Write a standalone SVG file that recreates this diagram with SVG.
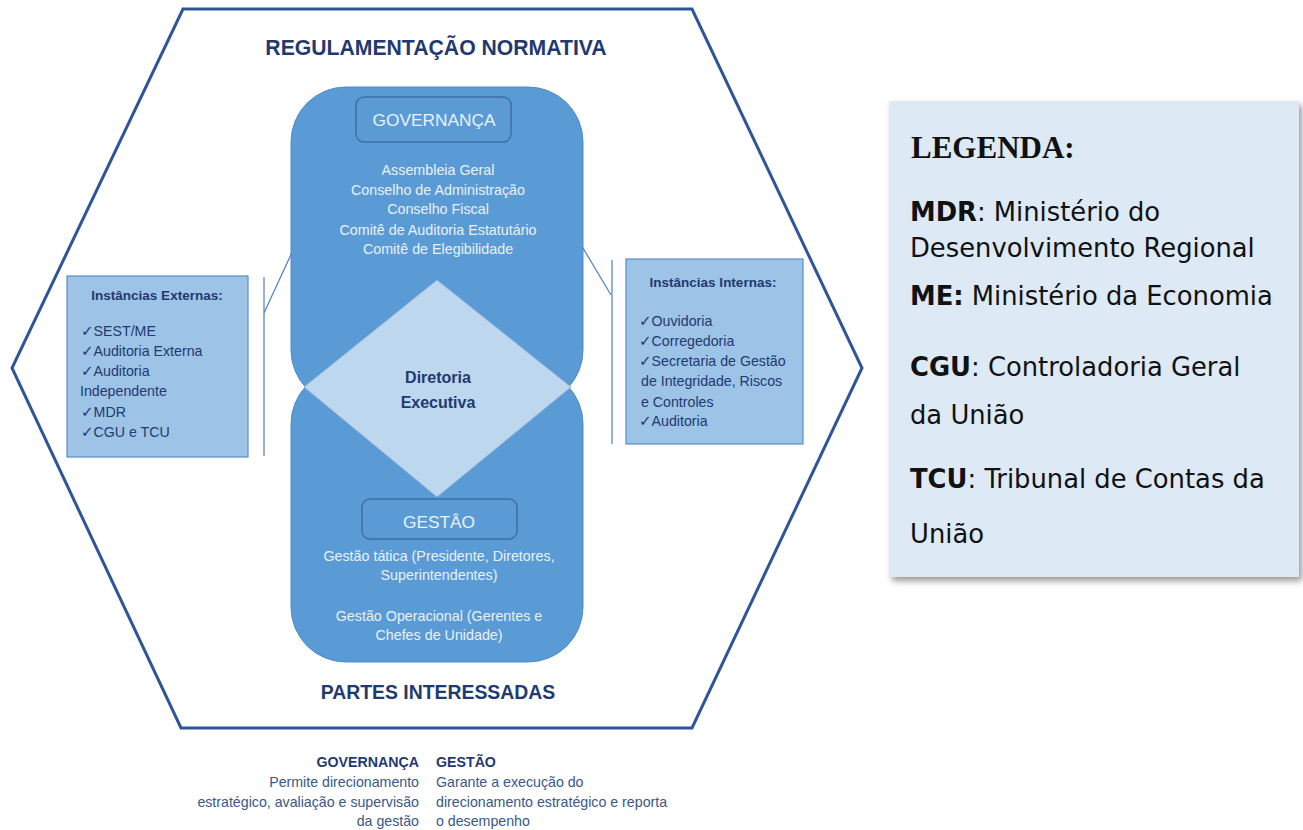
<svg xmlns="http://www.w3.org/2000/svg" width="1303" height="830" viewBox="0 0 1303 830">
<style>
.wt{fill:#eaf1f9;font-family:"Liberation Sans",Arial,sans-serif;font-size:14.3px;text-anchor:middle}
.lbl{font-size:17.3px}
.nv{fill:#1f3a70;font-family:"Liberation Sans",Arial,sans-serif;font-weight:bold}
.it{fill:#1f3a70;font-family:"Liberation Sans",Arial,sans-serif;font-size:14.2px}
.ck{font-family:"DejaVu Sans",sans-serif;font-size:15px}
.bl{fill:#3a5888;font-family:"Liberation Sans",Arial,sans-serif;font-size:14.2px}
.lg{fill:#111;font-family:"DejaVu Sans",sans-serif;font-size:25.8px}
.conn{stroke:#4f7fbf;stroke-width:1.2;fill:none}
.blk{fill:#5b9bd5;stroke:#4d8ccb;stroke-width:1}
.hdr{fill:#5b9bd5;stroke:#3f6fa8;stroke-width:1.5}
.inst{fill:#9dc3e6;stroke:#5a8ccb;stroke-width:1.2}
</style>
<defs>
<filter id="sh" x="-5%" y="-5%" width="112%" height="112%">
<feDropShadow dx="3" dy="4" stdDeviation="3" flood-color="#555" flood-opacity="0.6"/>
</filter>
</defs>
<rect width="1303" height="830" fill="#fff"/>
<g id="hexagon">
<polygon points="183,9 692,9 862,368 692,728 181,728 12,368" fill="none" stroke="#2e5597" stroke-width="3" stroke-linejoin="miter"/>
<text x="436" y="55" class="nv" font-size="21.2" text-anchor="middle">REGULAMENTAÇÃO NORMATIVA</text>
<text x="438" y="699" class="nv" font-size="19.4" text-anchor="middle">PARTES INTERESSADAS</text>
</g>
<g id="connectors">
<line class="conn" x1="354" y1="118" x2="264" y2="313"/>
<line class="conn" x1="264" y1="277" x2="264" y2="456"/>
<line class="conn" x1="512" y1="129" x2="611" y2="295"/>
<line class="conn" x1="612" y1="260" x2="612" y2="444"/>
</g>
<g id="governanca-block">
<rect class="blk" x="291" y="87" width="292" height="318" rx="55"/>
</g>
<g id="gestao-block">
<rect class="blk" x="291" y="369" width="292" height="293" rx="55"/>
</g>
<g id="governanca">
<rect class="hdr" x="356" y="97" width="155" height="45" rx="8"/>
<text x="434" y="126" class="wt lbl">GOVERNANÇA</text>
<text class="wt"><tspan x="438" y="175">Assembleia Geral</tspan><tspan x="438" y="195">Conselho de Administração</tspan><tspan x="438" y="214">Conselho Fiscal</tspan><tspan x="438" y="235">Comitê de Auditoria Estatutário</tspan><tspan x="438" y="254">Comitê de Elegibilidade</tspan></text>
</g>
<g id="diretoria">
<polygon points="437,280 571,387 437,497 304,387" fill="#bdd7ee" stroke="#8fb3da" stroke-width="1"/>
<text class="nv" font-size="16" text-anchor="middle"><tspan x="438" y="383">Diretoria</tspan><tspan x="438" y="408">Executiva</tspan></text>
</g>
<g id="gestao">
<rect class="hdr" x="362" y="499" width="155" height="40" rx="8"/>
<text x="439" y="528" class="wt lbl">GESTÂO</text>
<text class="wt"><tspan x="439" y="561">Gestão tática (Presidente, Diretores,</tspan><tspan x="439" y="580">Superintendentes)</tspan><tspan x="439" y="621">Gestão Operacional (Gerentes e</tspan><tspan x="439" y="640">Chefes de Unidade)</tspan></text>
</g>
<g id="instancias-externas">
<rect class="inst" x="67" y="276" width="181" height="181"/>
<text x="157" y="300" class="nv" font-size="13.5" text-anchor="middle">Instâncias Externas:</text>
<text class="it"><tspan x="81" y="336"><tspan class="ck">✓</tspan>SEST/ME</tspan><tspan x="81" y="356"><tspan class="ck">✓</tspan>Auditoria Externa</tspan><tspan x="81" y="376"><tspan class="ck">✓</tspan>Auditoria</tspan><tspan x="80" y="396">Independente</tspan><tspan x="81" y="417"><tspan class="ck">✓</tspan>MDR</tspan><tspan x="81" y="437"><tspan class="ck">✓</tspan>CGU e TCU</tspan></text>
</g>
<g id="instancias-internas">
<rect class="inst" x="626" y="259" width="177" height="185"/>
<text x="713" y="287" class="nv" font-size="13.5" text-anchor="middle">Instâncias Internas:</text>
<text class="it"><tspan x="639" y="326"><tspan class="ck">✓</tspan>Ouvidoria</tspan><tspan x="639" y="346"><tspan class="ck">✓</tspan>Corregedoria</tspan><tspan x="639" y="366"><tspan class="ck">✓</tspan>Secretaria de Gestão</tspan><tspan x="641" y="386">de Integridade, Riscos</tspan><tspan x="641" y="407">e Controles</tspan><tspan x="639" y="426"><tspan class="ck">✓</tspan>Auditoria</tspan></text>
</g>
<g id="bottom-legend">
<text x="419" y="767" class="nv" font-size="14.2" text-anchor="end">GOVERNANÇA</text>
<text class="bl" text-anchor="end"><tspan x="419" y="787">Permite direcionamento</tspan><tspan x="419" y="807">estratégico, avaliação e supervisão</tspan><tspan x="419" y="826">da gestão</tspan></text>
<text x="436" y="767" class="nv" font-size="14.2">GESTÃO</text>
<text class="bl"><tspan x="436" y="787">Garante a execução do</tspan><tspan x="436" y="807">direcionamento estratégico e reporta</tspan><tspan x="436" y="826">o desempenho</tspan></text>
</g>
<g id="legenda">
<rect x="889" y="101" width="410" height="476" fill="#dde9f5" filter="url(#sh)"/>
<text x="911" y="158" fill="#111" font-family="'Liberation Serif','Times New Roman',serif" font-weight="bold" font-size="31">LEGENDA:</text>
<text class="lg"><tspan x="910" y="221"><tspan font-weight="bold">MDR</tspan>: Ministério do</tspan><tspan x="910" y="257">Desenvolvimento Regional</tspan><tspan x="910" y="305"><tspan font-weight="bold">ME:</tspan> Ministério da Economia</tspan><tspan x="910" y="376"><tspan font-weight="bold">CGU</tspan>: Controladoria Geral</tspan><tspan x="910" y="424">da União</tspan><tspan x="910" y="488"><tspan font-weight="bold">TCU</tspan>: Tribunal de Contas da</tspan><tspan x="910" y="543">União</tspan></text>
</g>
</svg>
